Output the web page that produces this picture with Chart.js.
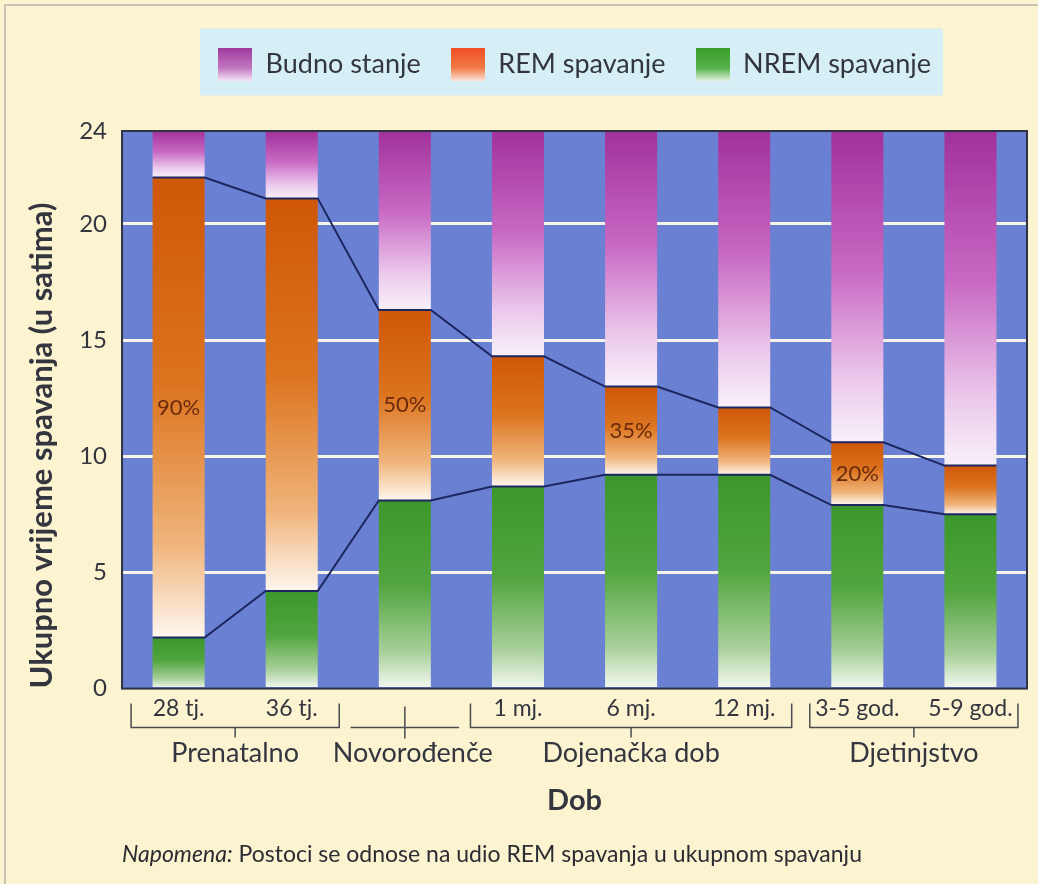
<!DOCTYPE html>
<html>
<head>
<meta charset="utf-8">
<script src="https://cdn.jsdelivr.net/npm/chart.js@4.4.1/dist/chart.umd.min.js"></script>
<style>
  html, body { margin: 0; padding: 0; background: #fcf3d0; }
  #wrap { width: 1038px; height: 884px; }
</style>
</head>
<body>
<div id="wrap"><canvas id="chart"></canvas></div>
<script>
// Data (hours per day)
const ageLabels = ['28 tj.', '36 tj.', '', '1 mj.', '6 mj.', '12 mj.', '3-5 god.', '5-9 god.'];
const nremHours = [2.2, 4.2, 8.1, 8.7, 9.2, 9.2, 7.9, 7.5];
const remHours = [19.8, 16.9, 8.2, 5.6, 3.8, 2.9, 2.7, 2.1];
const awakeHours = [2.0, 2.9, 7.7, 9.7, 11.0, 11.9, 13.4, 14.4];
const remShare = ['90%', '', '50%', '', '35%', '', '20%', ''];
const yTicks = [0, 5, 10, 15, 20, 24];
const ageGroups = [
  { label: 'Prenatalno', from: 0, to: 1 },
  { label: 'Novorođenče', from: 2, to: 2 },
  { label: 'Dojenačka dob', from: 3, to: 5 },
  { label: 'Djetinjstvo', from: 6, to: 7 },
];
const noteLead = 'Napomena:';
const noteText = ' Postoci se odnose na udio REM spavanja u ukupnom spavanju';

const palette = {
  page: '#fcf3d0',
  frame: '#cbc5b5',
  legendBox: '#d6eff6',
  plot: '#6a80d2',
  grid: '#f6f3ea',
  border: '#2e3242',
  line: '#1c2660',
  text: '#33363f',
  pct: '#6b2b0c',
};

// Vertical gradient stops, top -> bottom of each segment
const fills = {
  nrem: [[0, '#3b972b'], [0.45, '#52a53f'], [0.8, '#a6cf98'], [1, '#f6f9f2']],
  rem: [[0, '#cf5707'], [0.45, '#dc741f'], [0.8, '#f0b57c'], [1, '#fff7ef']],
  awake: [[0, '#a1319b'], [0.45, '#c869c4'], [0.8, '#ecc9ec'], [1, '#f8f1f9']],
};
const swatchFills = {
  nrem: [[0, '#38a02a'], [0.6, '#55b04a'], [1, '#e4f2dc']],
  rem: [[0, '#f04e23'], [0.6, '#f27a48'], [1, '#fde4d8']],
  awake: [[0, '#a0399c'], [0.6, '#c276c0'], [1, '#f6e6f6']],
};

Chart.defaults.font.family = 'Lato';

// Gradient for one stacked segment, built from the y scale
const segmentFill = (stops, datasetIndex) => (ctx) => {
  const { chart, dataIndex } = ctx;
  const yScale = chart.scales.y;
  if (ctx.type !== 'data' || !chart.chartArea || !yScale) return stops[0][1];
  let base = 0;
  for (let d = 0; d < datasetIndex; d++) base += chart.data.datasets[d].data[dataIndex];
  const top = base + chart.data.datasets[datasetIndex].data[dataIndex];
  const g = chart.ctx.createLinearGradient(0, yScale.getPixelForValue(top), 0, yScale.getPixelForValue(base));
  stops.forEach(([o, c]) => g.addColorStop(o, c));
  return g;
};

// Legend swatch
const legendSwatch = (stops) => {
  const c = document.createElement('canvas');
  c.width = 34;
  c.height = 33;
  const x = c.getContext('2d');
  const g = x.createLinearGradient(0, 0, 0, 33);
  stops.forEach(([o, col]) => g.addColorStop(o, col));
  x.fillStyle = g;
  x.fillRect(0, 0, 34, 33);
  return c;
};
const swatches = [legendSwatch(swatchFills.nrem), legendSwatch(swatchFills.rem), legendSwatch(swatchFills.awake)];

// Page, legend panel and plot background
const pageBackground = {
  id: 'pageBackground',
  beforeDraw(chart) {
    const { ctx, width, height, chartArea: a, legend } = chart;
    ctx.save();
    ctx.fillStyle = palette.page;
    ctx.fillRect(0, 0, width, height);
    ctx.strokeStyle = palette.frame;
    ctx.lineWidth = 2;
    ctx.beginPath();
    ctx.moveTo(5, height);
    ctx.lineTo(5, 5);
    ctx.lineTo(width, 5);
    ctx.stroke();

    const boxes = legend.legendHitBoxes || [];
    if (boxes.length) {
      const first = boxes[0];
      const last = boxes[boxes.length - 1];
      const mid = first.top + first.height / 2;
      ctx.fillStyle = palette.legendBox;
      ctx.fillRect(first.left - 18, mid - 36, last.left + last.width - first.left + 30, 67);
    }

    ctx.fillStyle = palette.plot;
    ctx.fillRect(a.left, a.top, a.width, a.height);
    ctx.restore();
  },
};

// Frame round the plot
const plotFrame = {
  id: 'plotFrame',
  afterDatasetsDraw(chart) {
    const { ctx, chartArea: a } = chart;
    ctx.save();
    ctx.strokeStyle = palette.border;
    ctx.lineWidth = 2;
    ctx.strokeRect(a.left, a.top, a.width, a.height);
    ctx.restore();
  },
};

// Lines along the NREM and REM tops, joined bar to bar
const stageLines = {
  id: 'stageLines',
  afterDatasetsDraw(chart) {
    const { ctx } = chart;
    ctx.save();
    ctx.strokeStyle = palette.line;
    ctx.lineWidth = 2;
    [0, 1].forEach((di) => {
      const bars = chart.getDatasetMeta(di).data;
      ctx.beginPath();
      bars.forEach((bar, i) => {
        const half = bar.width / 2;
        if (i === 0) ctx.moveTo(bar.x - half, bar.y);
        else ctx.lineTo(bar.x - half, bar.y);
        ctx.lineTo(bar.x + half, bar.y);
      });
      ctx.stroke();
    });
    ctx.restore();
  },
};

// REM share labels in the middle of the REM segment
const remShareLabels = {
  id: 'remShareLabels',
  afterDatasetsDraw(chart) {
    const { ctx } = chart;
    ctx.save();
    ctx.font = '22px Lato';
    ctx.fillStyle = palette.pct;
    ctx.textAlign = 'center';
    ctx.textBaseline = 'middle';
    chart.getDatasetMeta(1).data.forEach((bar, i) => {
      if (remShare[i]) ctx.fillText(remShare[i], bar.x, (bar.y + bar.base) / 2);
    });
    ctx.restore();
  },
};

// Age group brackets under the category labels
const ageGroupBrackets = {
  id: 'ageGroupBrackets',
  afterDraw(chart) {
    const { ctx, chartArea: a, scales: { x } } = chart;
    const step = x.width / ageLabels.length;
    const yLine = a.bottom + 39;
    ctx.save();
    ctx.strokeStyle = '#4a4c52';
    ctx.lineWidth = 1.5;
    ctx.fillStyle = palette.text;
    ctx.font = '27px Lato';
    ctx.textAlign = 'center';
    ctx.textBaseline = 'middle';
    ageGroups.forEach((g) => {
      const x1 = x.getPixelForValue(g.from);
      const x2 = x.getPixelForValue(g.to);
      const mid = (x1 + x2) / 2;
      const single = g.from === g.to;
      ctx.beginPath();
      if (single) {
        ctx.moveTo(mid - step * 0.48, yLine);
        ctx.lineTo(mid + step * 0.48, yLine);
        ctx.moveTo(mid, a.bottom + 18);
        ctx.lineTo(mid, yLine + 11);
      } else {
        const l = x1 - step * 0.42;
        const r = x2 + step * 0.42;
        ctx.moveTo(l, a.bottom + 15);
        ctx.lineTo(l, yLine);
        ctx.lineTo(r, yLine);
        ctx.lineTo(r, a.bottom + 15);
        ctx.moveTo(mid, yLine);
        ctx.lineTo(mid, yLine + 10);
      }
      ctx.stroke();
      ctx.fillText(g.label, mid + (single ? 8 : 0), a.bottom + 65);
    });
    ctx.restore();
  },
};

// Footnote
const footnote = {
  id: 'footnote',
  afterDraw(chart) {
    const { ctx, chartArea: a, height } = chart;
    const y = height - 29;
    ctx.save();
    ctx.fillStyle = '#2b2d33';
    ctx.textBaseline = 'middle';
    ctx.font = 'italic 23px Lato';
    ctx.fillText(noteLead, a.left, y);
    const w = ctx.measureText(noteLead).width;
    ctx.font = '23px Lato';
    ctx.fillText(noteText, a.left + w, y);
    ctx.restore();
  },
};

const draw = () => {
  new Chart(document.getElementById('chart'), {
    type: 'bar',
    data: {
      labels: ageLabels,
      datasets: [
        { label: 'NREM spavanje', data: nremHours, backgroundColor: segmentFill(fills.nrem, 0) },
        { label: 'REM spavanje', data: remHours, backgroundColor: segmentFill(fills.rem, 1) },
        { label: 'Budno stanje', data: awakeHours, backgroundColor: segmentFill(fills.awake, 2) },
      ],
    },
    options: {
      responsive: true,
      maintainAspectRatio: false,
      animation: false,
      events: [],
      barPercentage: 0.46,
      categoryPercentage: 1,
      layout: { padding: { top: 21, left: 19, right: 11, bottom: 60 } },
      plugins: {
        tooltip: { enabled: false },
        legend: {
          fullSize: false,
          labels: {
            usePointStyle: true,
            pointStyleWidth: 34,
            padding: 30,
            color: palette.text,
            font: { size: 27 },
            generateLabels: (chart) =>
              [2, 1, 0].map((i) => ({
                text: chart.data.datasets[i].label,
                pointStyle: swatches[i],
                fillStyle: 'transparent',
                strokeStyle: 'transparent',
                lineWidth: 0,
                datasetIndex: i,
                hidden: false,
                fontColor: palette.text,
              })),
          },
        },
        // empty title keeps a gap between legend and plot
        title: { display: true, text: '', weight: 500, font: { size: 10 }, padding: { top: 31, bottom: 0 } },
      },
      scales: {
        x: {
          stacked: true,
          grid: { display: false, drawTicks: false },
          border: { display: false },
          ticks: { color: palette.text, font: { size: 23 }, padding: 6, maxRotation: 0, autoSkip: false },
          title: {
            display: true,
            text: 'Dob',
            color: palette.text,
            font: { size: 29, weight: 'bold' },
            padding: { top: 55, bottom: 6 },
          },
        },
        y: {
          stacked: true,
          min: 0,
          max: 24,
          afterBuildTicks: (scale) => {
            scale.ticks = yTicks.map((value) => ({ value }));
          },
          grid: {
            color: (c) => (c.tick && (c.tick.value === 0 || c.tick.value === 24) ? 'transparent' : palette.grid),
            lineWidth: 3,
            drawTicks: false,
          },
          border: { display: false },
          ticks: { color: palette.text, font: { size: 24 }, padding: 15 },
          title: {
            display: true,
            align: 'start',
            text: 'Ukupno vrijeme spavanja (u satima)',
            color: palette.text,
            font: { size: 31, weight: 'bold' },
            padding: { top: 4, bottom: 4 },
          },
        },
      },
    },
    plugins: [pageBackground, plotFrame, stageLines, remShareLabels, ageGroupBrackets, footnote],
  });
};

Promise.all([
  document.fonts.load('27px Lato'),
  document.fonts.load('bold 27px Lato'),
  document.fonts.load('italic 23px Lato'),
]).then(draw, draw);
</script>
</body>
</html>
